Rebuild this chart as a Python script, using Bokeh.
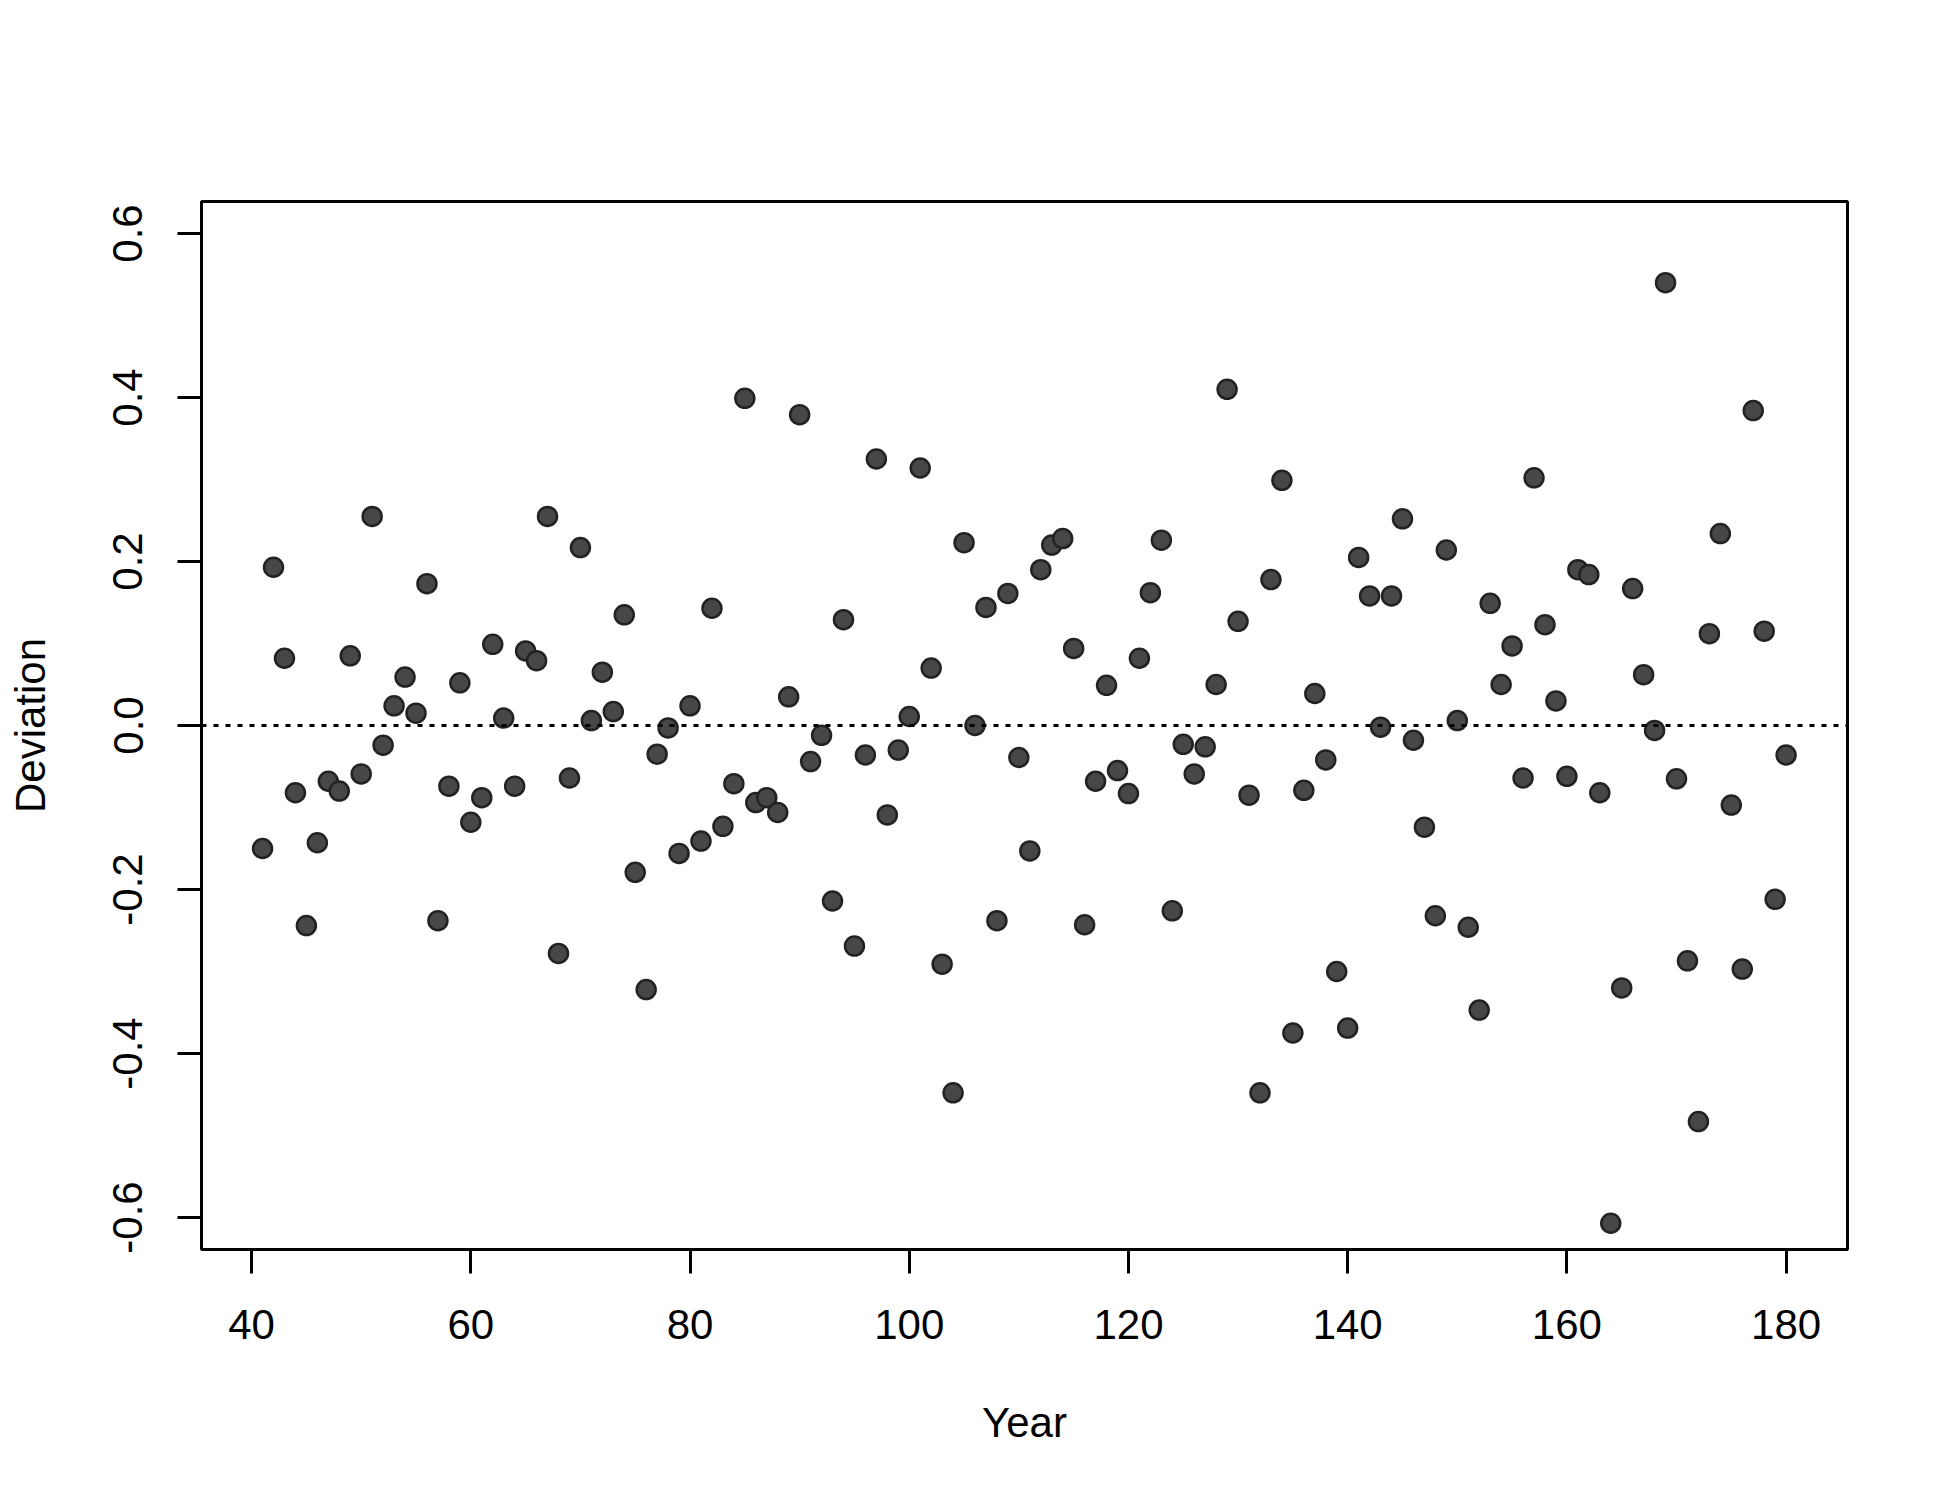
from bokeh.plotting import figure
from bokeh.models import Span, FixedTicker, Range1d
from bokeh.embed import file_html
from bokeh.resources import INLINE

years = list(range(41, 181))
deviation = [
    -0.150, 0.193, 0.082, -0.082, -0.244, -0.143, -0.068, -0.080, 0.085, -0.059,
    0.255, -0.024, 0.024, 0.059, 0.015, 0.173, -0.238, -0.074, 0.052, -0.118,
    -0.088, 0.099, 0.009, -0.074, 0.091, 0.079, 0.255, -0.278, -0.064, 0.217,
    0.006, 0.065, 0.017, 0.135, -0.179, -0.322, -0.035, -0.003, -0.156, 0.024,
    -0.141, 0.143, -0.123, -0.071, 0.399, -0.094, -0.088, -0.106, 0.035, 0.379,
    -0.044, -0.012, -0.214, 0.129, -0.269, -0.036, 0.325, -0.109, -0.030, 0.011,
    0.314, 0.070, -0.291, -0.448, 0.223, 0.000, 0.144, -0.238, 0.161, -0.039,
    -0.153, 0.190, 0.220, 0.228, 0.094, -0.243, -0.068, 0.049, -0.055, -0.083,
    0.082, 0.162, 0.226, -0.226, -0.023, -0.059, -0.026, 0.050, 0.410, 0.127,
    -0.085, -0.448, 0.178, 0.299, -0.375, -0.079, 0.039, -0.042, -0.300, -0.369,
    0.205, 0.158, -0.002, 0.158, 0.252, -0.018, -0.124, -0.232, 0.214, 0.006,
    -0.246, -0.347, 0.149, 0.050, 0.097, -0.064, 0.302, 0.123, 0.030, -0.062,
    0.190, 0.184, -0.082, -0.607, -0.320, 0.167, 0.062, -0.006, 0.540, -0.065,
    -0.287, -0.483, 0.112, 0.234, -0.097, -0.297, 0.384, 0.115, -0.212, -0.036,
]
x_ticks = [40, 60, 80, 100, 120, 140, 160, 180]
y_ticks = [-0.6, -0.4, -0.2, 0.0, 0.2, 0.4, 0.6]
y_tick_labels = {-0.6: "-0.6", -0.4: "-0.4", -0.2: "-0.2", 0.0: "0.0", 0.2: "0.2", 0.4: "0.4", 0.6: "0.6"}

FONT = "Liberation Sans"

p = figure(
    frame_width=1646, frame_height=1048,
    min_border_left=201, min_border_right=87, min_border_top=201, min_border_bottom=235,
    x_range=Range1d(35.43, 185.6), y_range=Range1d(-0.639, 0.639),
    output_backend="svg", toolbar_location=None,
    background_fill_color="white", border_fill_color="white",
)
p.grid.visible = False
p.outline_line_color = "black"
p.outline_line_width = 3

p.scatter(years, deviation, size=19, fill_color="#474747", fill_alpha=1.0,
          line_color="#222222", line_width=2.5)

p.add_layout(Span(location=0, dimension="width", line_color="black",
                  line_width=3, line_dash="5 7"))

for ax in (p.xaxis[0], p.yaxis[0]):
    ax.axis_line_color = None
    ax.major_tick_line_color = "black"
    ax.major_tick_line_width = 3
    ax.major_tick_out = 24
    ax.major_tick_in = 0
    ax.minor_tick_line_color = None
    ax.major_label_text_font = FONT
    ax.major_label_text_font_size = "42px"
    ax.major_label_text_color = "black"
    ax.axis_label_text_font = FONT
    ax.axis_label_text_font_size = "42px"
    ax.axis_label_text_font_style = "normal"
    ax.axis_label_text_color = "black"

p.xaxis.ticker = FixedTicker(ticks=x_ticks)
p.yaxis.ticker = FixedTicker(ticks=y_ticks)
p.yaxis.major_label_overrides = y_tick_labels
p.yaxis.major_label_orientation = "vertical"
p.xaxis.axis_label = "Year"
p.yaxis.axis_label = "Deviation"
p.xaxis.major_label_standoff = 36
p.yaxis.major_label_standoff = 35
p.xaxis.axis_label_standoff = 57
p.yaxis.axis_label_standoff = 57

open("out.html", "w").write(file_html(p, INLINE))
